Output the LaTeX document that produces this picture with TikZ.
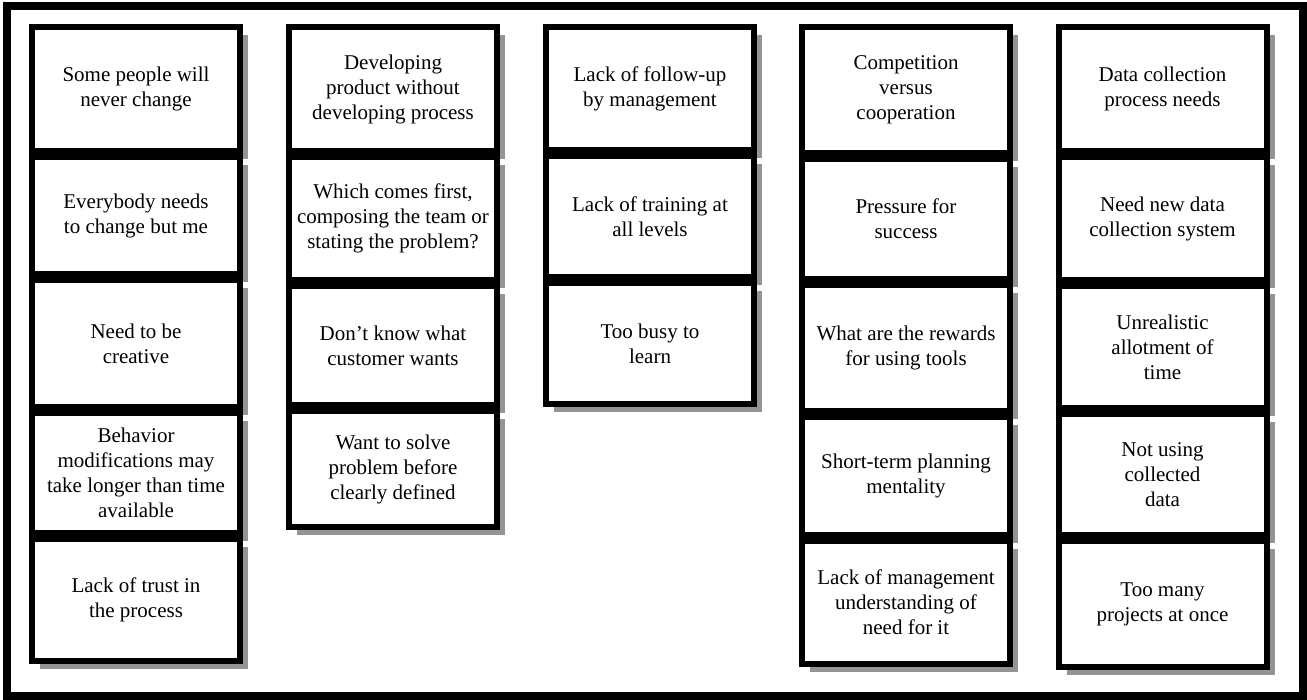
\documentclass[tikz,border=0pt]{standalone}
\usepackage{fontspec}
\setmainfont{Liberation Serif}
\usetikzlibrary{shadows}
\tikzset{
  card/.style={draw=black, line width=6pt, fill=white, rectangle, inner sep=0pt,
    minimum width=208pt, align=center, text=black,
    font=\fontsize{21}{25}\selectfont,
    drop shadow={shadow xshift=8pt, shadow yshift=-8pt, fill=black!42, opacity=1}},
  frame/.style={draw=black, line width=8pt}
}
\newcommand\mycard[5]{\node[card, minimum height={#4-#3-6}] (#1) at (#2,{(#3+#4)/2}) {#5};}
\begin{document}
\begin{tikzpicture}[x=1pt,y=-1pt]
\useasboundingbox (0,0) rectangle (1307,700);
\fill[white] (0,0) rectangle (1307,700);
\draw[frame] (7,6) rectangle (1303,696);
% column 1
\mycard{c11}{136}{24}{154}{Some people will\\never change}
\mycard{c12}{136}{154}{277}{Everybody needs\\to change but me}
\mycard{c13}{136}{277}{410}{Need to be\\creative}
\mycard{c14}{136}{410}{536}{Behavior\\modifications may\\take longer than time\\available}
\mycard{c15}{136}{536}{664}{Lack of trust in\\the process}
% column 2
\mycard{c21}{393}{24}{154}{Developing\\product without\\developing process}
\mycard{c22}{393}{154}{283}{Which comes first,\\composing the team or\\stating the problem?}
\mycard{c23}{393}{283}{408}{Don’t know what\\customer wants}
\mycard{c24}{393}{408}{530}{Want to solve\\problem before\\clearly defined}
% column 3
\mycard{c31}{650}{24}{153}{Lack of follow-up\\by management}
\mycard{c32}{650}{153}{280}{Lack of training at\\all levels}
\mycard{c33}{650}{280}{407}{Too busy to\\learn}
% column 4
\mycard{c41}{906}{24}{156}{Competition\\versus\\cooperation}
\mycard{c42}{906}{156}{282}{Pressure for\\success}
\mycard{c43}{906}{282}{414}{What are the rewards\\for using tools}
\mycard{c44}{906}{414}{538}{Short-term planning\\mentality}
\mycard{c45}{906}{538}{667}{Lack of management\\understanding of\\need for it}
% column 5
\mycard{c51}{1162.5}{24}{154}{Data collection\\process needs}
\mycard{c52}{1162.5}{154}{283}{Need new data\\collection system}
\mycard{c53}{1162.5}{283}{411}{Unrealistic\\allotment of\\time}
\mycard{c54}{1162.5}{411}{538}{Not using\\collected\\data}
\mycard{c55}{1162.5}{538}{670}{Too many\\projects at once}
\end{tikzpicture}
\end{document}
